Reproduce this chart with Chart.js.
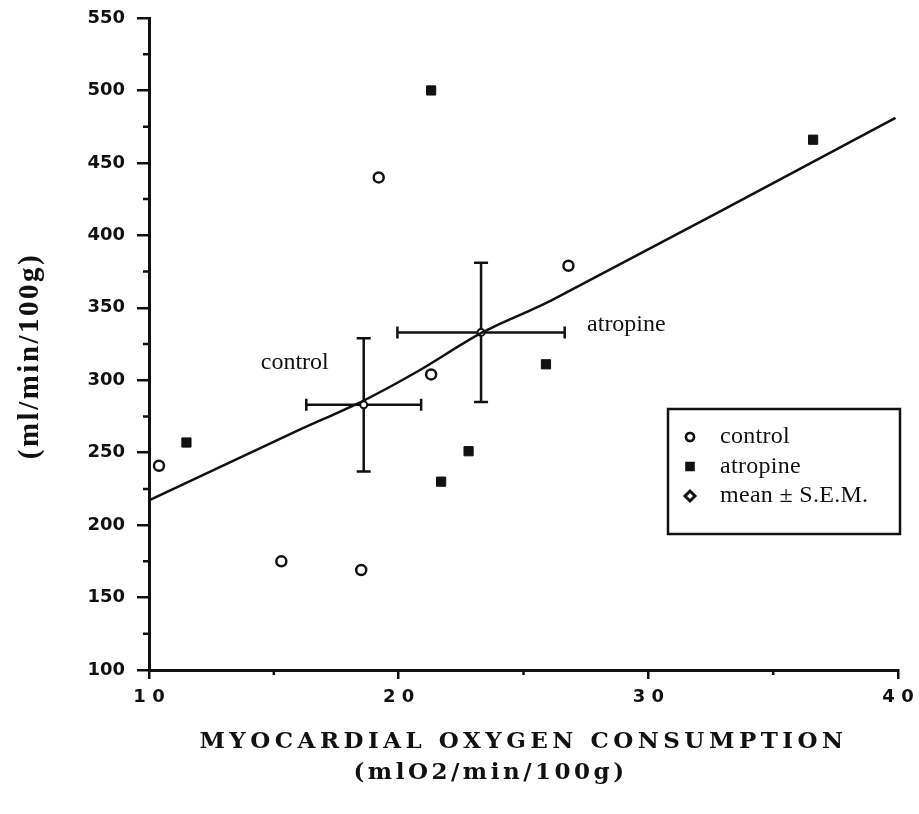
<!DOCTYPE html>
<html>
<head>
<meta charset="utf-8">
<script src="https://cdn.jsdelivr.net/npm/chart.js@4/dist/chart.umd.min.js"></script>
<style>
  html, body { margin: 0; padding: 0; background: #fff; }
  canvas { display: block; }
</style>
</head>
<body>
<canvas id="chart" width="919" height="814"></canvas>
<script>
// values
const controlX = [10.4, 19.2, 21.3, 26.8, 15.3, 18.5];
const controlY = [241, 440, 304, 379, 175, 169];
const atropineX = [11.5, 21.3, 36.6, 25.9, 22.8, 21.7];
const atropineY = [257, 500, 466, 311, 251, 230];

const meanNames = ["control", "atropine"];
const meanX = [18.6, 23.3];
const meanY = [283, 333];
const semX = [2.3, 3.35];
const semY = [46, 48];

// hand-drawn regression line, traced at a few points
const fitX = [10, 15.8, 18.6, 20.75, 23.35, 26.1, 39.9];
const fitY = [217, 264, 286, 306, 333, 355, 481];

const xTickLabels = ["1 0", "2 0", "3 0", "4 0"];
const xMinorTicks = [15, 25, 35];
const yMinorTicks = [125, 175, 225, 275, 325, 375, 425, 475, 525];

const xTitle = ["MYOCARDIAL OXYGEN CONSUMPTION", "(mlO2/min/100g)"];
const yTitle = "(ml/min/100g)";

const ink = "#111";
const toPts = (xs, ys) => xs.map((x, i) => ({ x: x, y: ys[i] }));

const extras = {
  id: "extras",
  beforeDatasetsDraw(chart) {
    const ctx = chart.ctx, sx = chart.scales.x, sy = chart.scales.y;
    ctx.save();
    ctx.strokeStyle = ink;
    ctx.lineWidth = 2.5;
    meanX.forEach((mx, i) => {
      const px = sx.getPixelForValue(mx), py = sy.getPixelForValue(meanY[i]);
      const x0 = sx.getPixelForValue(mx - semX[i]), x1 = sx.getPixelForValue(mx + semX[i]);
      const y0 = sy.getPixelForValue(meanY[i] - semY[i]), y1 = sy.getPixelForValue(meanY[i] + semY[i]);
      ctx.beginPath();
      ctx.moveTo(x0, py); ctx.lineTo(x1, py);
      ctx.moveTo(x0, py - 6); ctx.lineTo(x0, py + 6);
      ctx.moveTo(x1, py - 6); ctx.lineTo(x1, py + 6);
      ctx.moveTo(px, y0); ctx.lineTo(px, y1);
      ctx.moveTo(px - 7, y0); ctx.lineTo(px + 7, y0);
      ctx.moveTo(px - 7, y1); ctx.lineTo(px + 7, y1);
      ctx.stroke();
    });
    ctx.restore();
  },
  afterDraw(chart) {
    const ctx = chart.ctx, sx = chart.scales.x, sy = chart.scales.y, area = chart.chartArea;
    ctx.save();
    ctx.strokeStyle = ink;
    ctx.fillStyle = ink;

    // minor tick marks
    ctx.lineWidth = 2.5;
    ctx.beginPath();
    xMinorTicks.forEach(v => {
      const px = sx.getPixelForValue(v);
      ctx.moveTo(px, area.bottom); ctx.lineTo(px, area.bottom + 5);
    });
    yMinorTicks.forEach(v => {
      const py = sy.getPixelForValue(v);
      ctx.moveTo(area.left, py); ctx.lineTo(area.left - 6, py);
    });
    ctx.stroke();

    // labels beside the mean crosses
    ctx.font = "24px 'Liberation Serif'";
    ctx.textBaseline = "middle";
    ctx.textAlign = "right";
    ctx.fillText(meanNames[0], sx.getPixelForValue(meanX[0]) - 35, sy.getPixelForValue(meanY[0]) - 42);
    ctx.textAlign = "left";
    ctx.fillText(meanNames[1], sx.getPixelForValue(meanX[1]) + 106, sy.getPixelForValue(meanY[1]) - 8);

    // legend box
    const lx = area.right - 230, ly = area.top + 391;
    ctx.lineWidth = 2.5;
    ctx.strokeRect(lx, ly, 232, 125);
    chart.data.datasets.forEach(ds => {
      if (ds.legendRow === undefined) return;
      const rowY = ly + 28 + ds.legendRow * 29.5;
      Chart.helpers.drawPoint(ctx, {
        pointStyle: ds.legendStyle,
        radius: ds.legendRadius,
        borderWidth: ds.legendBorder,
        rotation: 0
      }, lx + 22, rowY);
      ctx.fillStyle = ds.legendFill;
      ctx.strokeStyle = ink;
      ctx.lineWidth = ds.legendBorder;
      ctx.fill();
      ctx.stroke();
      ctx.fillStyle = ink;
      ctx.font = "24px 'Liberation Serif'";
      ctx.letterSpacing = "0.3px";
      ctx.textAlign = "left";
      ctx.fillText(ds.label, lx + 52, rowY);
      ctx.letterSpacing = "0px";
    });

    // axis titles
    ctx.fillStyle = ink;
    ctx.textAlign = "center";
    ctx.textBaseline = "middle";
    ctx.letterSpacing = "4.5px";
    ctx.font = "bold 23px 'DejaVu Serif'";
    const cx = (area.left + area.right) / 2;
    ctx.fillText(xTitle[0], cx, area.bottom + 72);
    ctx.letterSpacing = "3.5px";
    ctx.fillText(xTitle[1], cx - 33, area.bottom + 103);
    ctx.letterSpacing = "2.5px";
    ctx.font = "bold 29px 'Liberation Serif'";
    ctx.translate(31, (area.top + area.bottom) / 2 + 12);
    ctx.rotate(-Math.PI / 2);
    ctx.fillText(yTitle, 0, 0);
    ctx.restore();
  }
};

new Chart(document.getElementById("chart"), {
  type: "scatter",
  data: {
    datasets: [
      {
        label: "regression",
        type: "line",
        data: toPts(fitX, fitY),
        borderColor: ink,
        borderWidth: 2.5,
        pointRadius: 0,
        tension: 0.3,
        fill: false
      },
      {
        label: "control",
        legendRow: 0,
        data: toPts(controlX, controlY),
        pointStyle: "circle",
        pointRadius: 5,
        pointBorderWidth: 2.5,
        pointBackgroundColor: "#fff",
        pointBorderColor: ink,
        legendStyle: "circle",
        legendRadius: 4,
        legendBorder: 2.5,
        legendFill: "#fff"
      },
      {
        label: "atropine",
        legendRow: 1,
        data: toPts(atropineX, atropineY),
        pointStyle: "rect",
        pointRadius: 6.5,
        pointBorderWidth: 1,
        pointBackgroundColor: ink,
        pointBorderColor: ink,
        legendStyle: "rect",
        legendRadius: 5,
        legendBorder: 1,
        legendFill: ink
      },
      {
        label: "mean \u00b1 S.E.M.",
        legendRow: 2,
        data: toPts(meanX, meanY),
        pointStyle: "circle",
        pointRadius: 3.5,
        pointBorderWidth: 2,
        pointBackgroundColor: "#fff",
        pointBorderColor: ink,
        legendStyle: "rectRot",
        legendRadius: 5,
        legendBorder: 3,
        legendFill: "#fff"
      }
    ]
  },
  options: {
    responsive: false,
    animation: false,
    events: [],
    layout: { padding: { top: 18, right: 21, left: 0, bottom: 0 } },
    plugins: { legend: { display: false }, tooltip: { enabled: false } },
    scales: {
      x: {
        type: "linear",
        min: 10,
        max: 40,
        afterFit: s => { s.height = 144; s.paddingLeft = 0; s.paddingRight = 0; },
        border: { color: ink, width: 3 },
        grid: { drawOnChartArea: false, tickLength: 9, lineWidth: 2.5, color: ink },
        ticks: {
          stepSize: 10,
          padding: 8,
          color: ink,
          font: { family: "'DejaVu Sans'", size: 18, weight: "bold" },
          callback: (v, i) => xTickLabels[i]
        }
      },
      y: {
        type: "linear",
        min: 100,
        max: 550,
        afterFit: s => { s.width = 149; s.paddingTop = 0; s.paddingBottom = 0; },
        border: { color: ink, width: 3 },
        grid: { drawOnChartArea: false, tickLength: 12, lineWidth: 2.5, color: ink },
        ticks: {
          stepSize: 50,
          padding: 12,
          color: ink,
          font: { family: "'DejaVu Sans'", size: 18, weight: "bold" }
        }
      }
    }
  },
  plugins: [extras]
});
</script>
</body>
</html>
